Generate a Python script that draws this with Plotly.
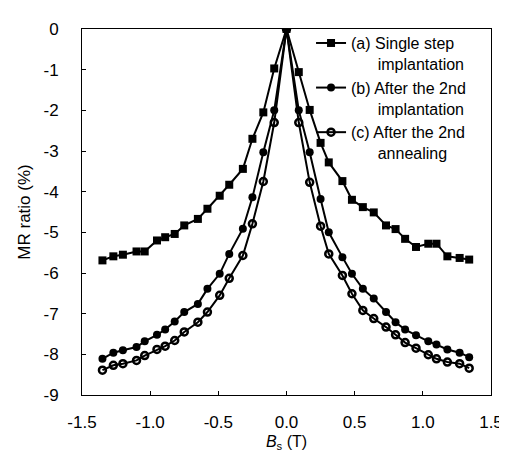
import plotly.graph_objects as go

# Applied field B_s (T)
field = [-1.35, -1.27, -1.20, -1.10, -1.04, -0.95, -0.89, -0.82, -0.75, -0.65, -0.58, -0.49,
         -0.42, -0.32, -0.25, -0.17, -0.09, 0.0, 0.09, 0.17, 0.25, 0.31, 0.41, 0.48, 0.56,
         0.64, 0.73, 0.80, 0.87, 0.95, 1.04, 1.10, 1.18, 1.27, 1.34]

mr_a = [-5.69, -5.59, -5.55, -5.47, -5.47, -5.20, -5.12, -5.04, -4.83, -4.67, -4.42, -4.10,
        -3.83, -3.44, -2.70, -2.05, -0.97, 0.0, -1.06, -1.99, -2.80, -3.28, -3.74, -4.20, -4.38,
        -4.51, -4.83, -4.92, -5.16, -5.36, -5.28, -5.28, -5.59, -5.63, -5.67]

mr_b = [-8.11, -7.96, -7.90, -7.82, -7.68, -7.52, -7.39, -7.19, -6.96, -6.76, -6.39, -6.02,
        -5.53, -4.91, -4.14, -3.03, -2.00, 0.0, -2.00, -3.03, -4.18, -5.00, -5.61, -6.02, -6.39,
        -6.63, -6.96, -7.21, -7.39, -7.53, -7.68, -7.76, -7.88, -7.96, -8.07]

mr_c = [-8.39, -8.27, -8.23, -8.15, -8.03, -7.88, -7.80, -7.66, -7.45, -7.21, -6.96, -6.55,
        -6.13, -5.57, -4.79, -3.75, -2.30, 0.0, -2.30, -3.77, -4.85, -5.53, -6.06, -6.51, -6.92,
        -7.12, -7.33, -7.52, -7.71, -7.85, -8.01, -8.11, -8.19, -8.23, -8.34]

names = ["(a) Single step<br>      implantation",
         "(b) After the 2nd<br>      implantation",
         "(c) After the 2nd<br>      annealing"]

x_ticks = [-1.5, -1.0, -0.5, 0.0, 0.5, 1.0, 1.5]
x_tick_text = ["-1.5", "-1.0", "-0.5", "0.0", "0.5", "1.0", "1.5"]
y_ticks = [0, -1, -2, -3, -4, -5, -6, -7, -8, -9]
y_tick_text = ["0", "-1", "-2", "-3", "-4", "-5", "-6", "-7", "-8", "-9"]

FONT = "Liberation Sans, Arial, sans-serif"

fig = go.Figure()
fig.add_trace(go.Scatter(x=field, y=mr_a, mode="lines+markers", name=names[0],
                         line=dict(color="black", width=2),
                         marker=dict(symbol="square", size=8, color="black",
                                     line=dict(color="black", width=0))))
fig.add_trace(go.Scatter(x=field, y=mr_b, mode="lines+markers", name=names[1],
                         line=dict(color="black", width=2),
                         marker=dict(symbol="circle", size=8, color="black")))
fig.add_trace(go.Scatter(x=field, y=mr_c, mode="lines+markers", name=names[2],
                         line=dict(color="black", width=2),
                         marker=dict(symbol="circle-open", size=7, color="black",
                                     line=dict(color="black", width=2.5))))

fig.update_layout(
    width=507, height=456,
    margin=dict(l=74, r=12, t=20, b=69),
    paper_bgcolor="white", plot_bgcolor="white",
    font=dict(family=FONT, size=17, color="black"),
    showlegend=True,
    legend=dict(x=0.56, y=1.008, xanchor="left", yanchor="top",
                bgcolor="rgba(0,0,0,0)", borderwidth=0,
                font=dict(family=FONT, size=16, color="black"),
                itemwidth=30, tracegroupgap=0, valign="top"),
    xaxis=dict(range=[-1.5, 1.5], tickmode="array", tickvals=x_ticks, ticktext=x_tick_text,
               ticks="inside", ticklen=4, tickcolor="black", showgrid=False, zeroline=False,
               showline=True, linecolor="black", linewidth=1, mirror=True,
               ticklabelstandoff=12, tickfont=dict(family=FONT, size=17),
               title=dict(text="<i>B</i><sub>s</sub> (T)", standoff=4,
                          font=dict(family=FONT, size=16))),
    yaxis=dict(range=[-9, 0], tickmode="array", tickvals=y_ticks, ticktext=y_tick_text,
               ticks="inside", ticklen=4, tickcolor="black", showgrid=False, zeroline=False,
               showline=True, linecolor="black", linewidth=1, mirror=True,
               ticklabelstandoff=19, tickfont=dict(family=FONT, size=17),
               title=dict(text="MR ratio (%)", standoff=8,
                          font=dict(family=FONT, size=17))),
)

fig.write_html("out.html")
